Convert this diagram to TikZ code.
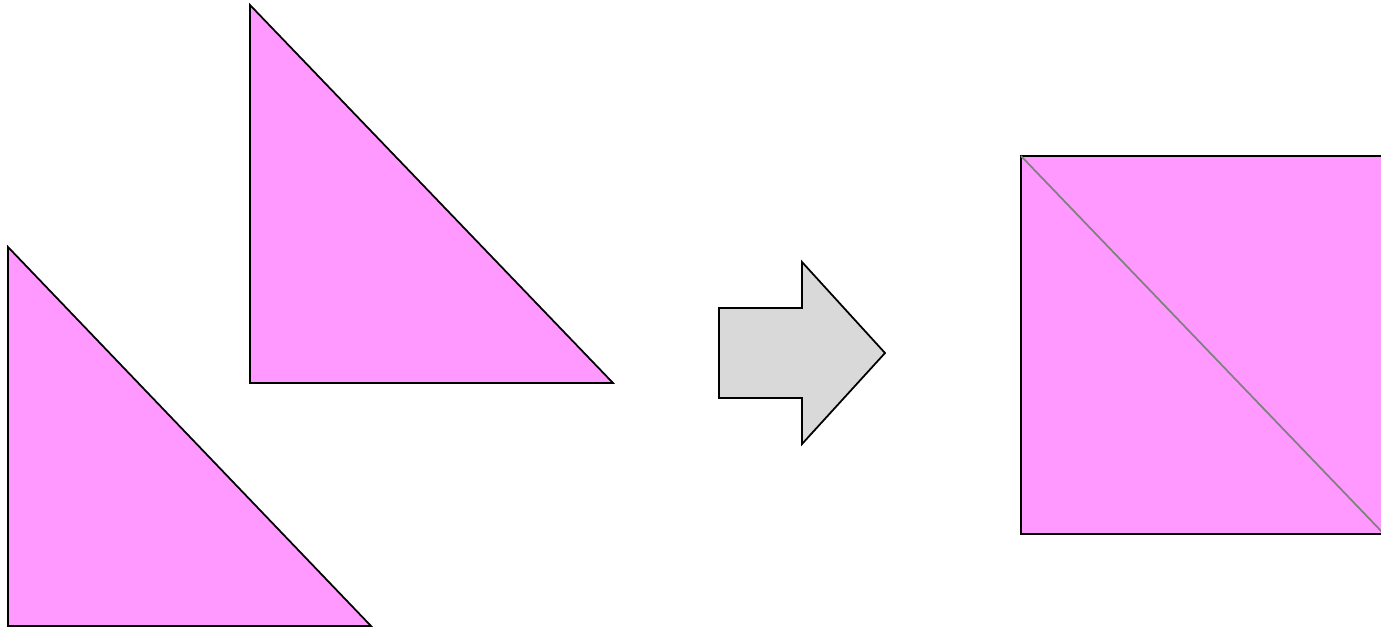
\documentclass[tikz,border=0pt]{standalone}
\usepackage{tikz}

\definecolor{piecepink}{HTML}{FF99FF}
\definecolor{arrowgray}{HTML}{D9D9D9}

\begin{document}
\begin{tikzpicture}[x=0.02cm, y=-0.02cm,
	piece/.style={draw=black, fill=piecepink, line width=1pt, line join=miter},
	bigarrow/.style={draw=black, fill=arrowgray, line width=1pt}]
	\useasboundingbox (0,0) rectangle (1381,629);
	\clip (0,0) rectangle (1381,629);
	% two right triangles
	\draw[piece] (8,247) -- (8,626) -- (371,626) -- cycle;
	\draw[piece] (250,5) -- (250,383) -- (613,383) -- cycle;
	% block arrow
	\draw[bigarrow] (719,308) -- (802,308) -- (802,262) -- (885,353) -- (802,444) -- (802,398) -- (719,398) -- cycle;
	% square made from both pieces
	\draw[piece] (1021,156) rectangle (1384,534);
	\draw[gray, line width=1pt] (1021,156) -- (1384,534);
\end{tikzpicture}
\end{document}
